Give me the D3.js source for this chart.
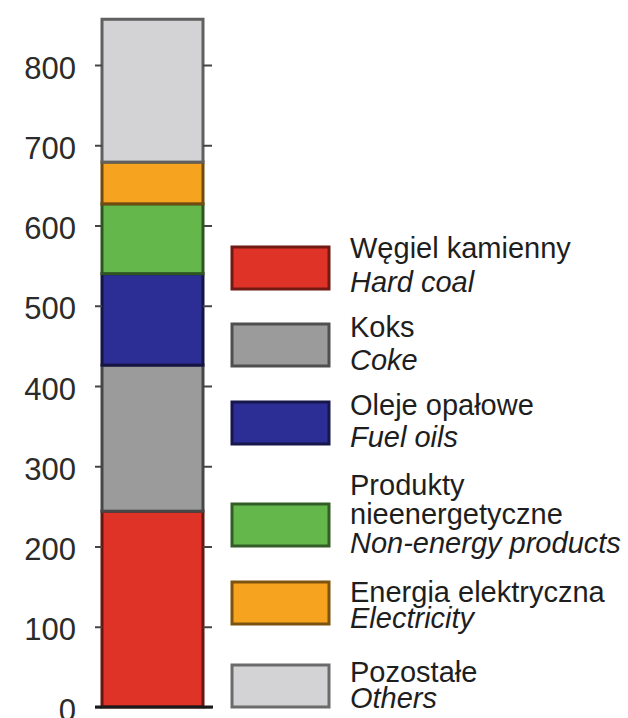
<!DOCTYPE html>
<html>
<head>
<meta charset="utf-8">
<script src="https://cdn.jsdelivr.net/npm/d3@7"></script>
<style>
  body { margin: 0; background: #fff; }
  svg { display: block; }
  text { font-family: "Liberation Sans", Arial, sans-serif; }
</style>
</head>
<body>
<svg id="chart" width="628" height="718"></svg>
<script>
// Energy carriers, bottom to top of the stacked column
const categories = ["Hard coal", "Coke", "Fuel oils", "Non-energy products", "Electricity", "Others"];
const labelsPl = [["Węgiel kamienny"], ["Koks"], ["Oleje opałowe"], ["Produkty", "nieenergetyczne"], ["Energia elektryczna"], ["Pozostałe"]];
const labelsEn = ["Hard coal", "Coke", "Fuel oils", "Non-energy products", "Electricity", "Others"];
const values = [244, 182, 114, 87, 52, 178];
const tickValues = [0, 100, 200, 300, 400, 500, 600, 700, 800];

// Fill colours per carrier
const fills = ["#df3327", "#9b9b9b", "#2d2d96", "#64b84b", "#f6a31f", "#d3d3d5"];

// Legend layout (swatch tops, first baselines, line gaps)
const legendSwatchTop = [247, 324, 402, 504, 582, 665];
const legendBaseline = [258, 337, 415, 495, 602, 682];
const legendLineGap = [34, 33, 32, 29, 26, 26];

const svg = d3.select("#chart");

const y = d3.scaleLinear().domain([0, 800]).range([707, 65]);
const x = d3.scaleBand().domain(["total"]).range([102, 203]).padding(0);

const row = { key: "total" };
categories.forEach((c, i) => { row[c] = values[i]; });
const series = d3.stack().keys(categories)([row]);

const color = d3.scaleOrdinal().domain(categories).range(fills);

// Stacked column
svg.append("g")
  .selectAll("rect")
  .data(series)
  .join("rect")
  .attr("x", x("total"))
  .attr("width", x.bandwidth())
  .attr("y", d => y(d[0][1]))
  .attr("height", d => y(d[0][0]) - y(d[0][1]))
  .attr("fill", d => color(d.key))
  .attr("stroke", d => d3.color(color(d.key)).darker(2.2))
  .attr("stroke-width", 3);

// Left axis with labels
const yAxisLeft = d3.axisLeft(y).tickValues(tickValues).tickSize(7).tickPadding(19);
const gl = svg.append("g").attr("transform", `translate(${x.range()[0]},0)`).call(yAxisLeft);
gl.select(".domain").remove();
gl.selectAll(".tick line").attr("stroke", "#444").attr("stroke-width", 2);
gl.selectAll(".tick text")
  .attr("font-size", 31)
  .attr("fill", "#2b2b2b")
  .attr("dy", "0.42em")
  .style("font-family", "'Liberation Sans', Arial, sans-serif");

// Right axis, ticks only
const yAxisRight = d3.axisRight(y).tickValues(tickValues).tickSize(9).tickFormat("");
const gr = svg.append("g").attr("transform", `translate(${x.range()[1]},0)`).call(yAxisRight);
gr.select(".domain").remove();
gr.selectAll(".tick line").attr("stroke", "#444").attr("stroke-width", 2);

// Baseline
svg.append("line")
  .attr("x1", 95).attr("x2", 213)
  .attr("y1", y(0)).attr("y2", y(0))
  .attr("stroke", "#1a1a1a")
  .attr("stroke-width", 3);

// Legend
const legend = svg.append("g");
const items = legend.selectAll("g")
  .data(categories)
  .join("g");

items.append("rect")
  .attr("x", 232)
  .attr("y", (d, i) => legendSwatchTop[i])
  .attr("width", 97)
  .attr("height", 42)
  .attr("fill", d => color(d))
  .attr("stroke", d => d3.color(color(d)).darker(1.9))
  .attr("stroke-width", 3);

items.each(function (d, i) {
  const g = d3.select(this);
  const lines = labelsPl[i].map(t => ({ t, italic: false })).concat([{ t: labelsEn[i], italic: true }]);
  g.selectAll("text")
    .data(lines)
    .join("text")
    .attr("x", 350)
    .attr("y", (l, j) => legendBaseline[i] + j * legendLineGap[i])
    .attr("font-size", 29)
    .attr("fill", "#1e1e1e")
    .attr("font-style", l => l.italic ? "italic" : "normal")
    .text(l => l.t);
});
</script>
</body>
</html>
